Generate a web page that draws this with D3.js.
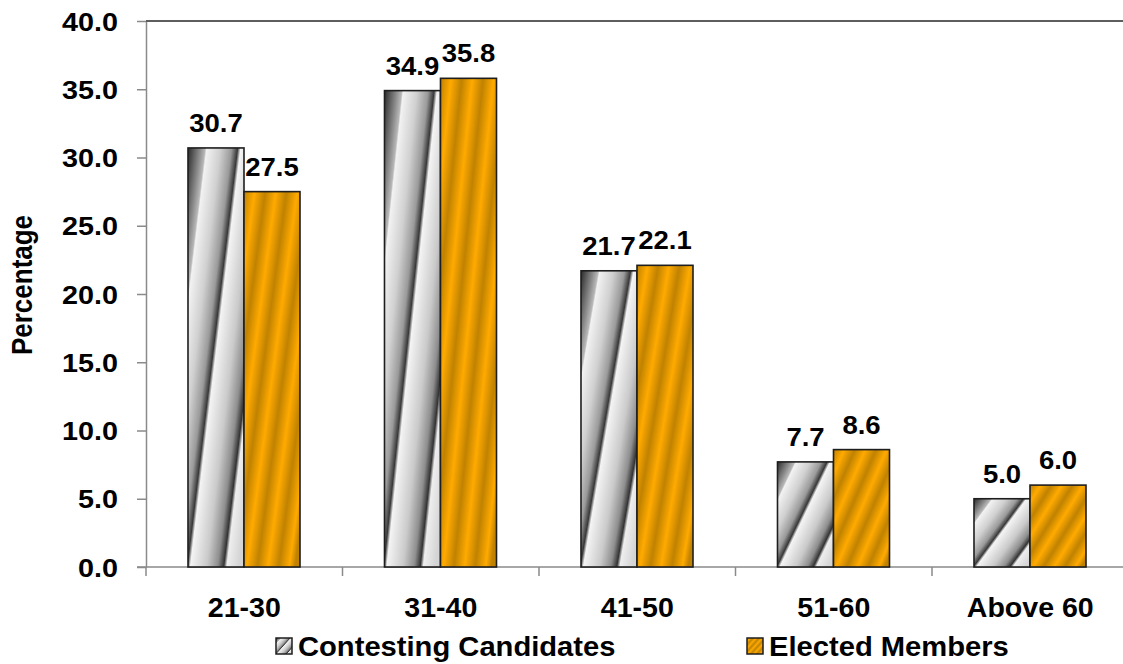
<!DOCTYPE html>
<html>
<head>
<meta charset="utf-8">
<script src="https://cdn.jsdelivr.net/npm/d3@7"></script>
<style>
  html, body { margin: 0; padding: 0; background: #fff; }
  svg { display: block; }
  text { font-family: "Liberation Sans", Arial, sans-serif; fill: #000; }
</style>
</head>
<body>
<svg id="chart" width="1123" height="664"></svg>
<script>
// ---- data ----
const categories = ["21-30", "31-40", "41-50", "51-60", "Above 60"];
const contesting = [30.7, 34.9, 21.7, 7.7, 5.0];
const elected = [27.5, 35.8, 22.1, 8.6, 6.0];
const seriesNames = ["Contesting Candidates", "Elected Members"];
const yTicks = [0, 5, 10, 15, 20, 25, 30, 35, 40];
const yTitle = "Percentage";

// ---- setup ----
const svg = d3.select("#chart");
const W = 1123, H = 664;
const plot = { left: 146, right: 1128.5, top: 21, bottom: 567 };

const x = d3.scaleBand().domain(categories).range([plot.left, plot.right]).paddingInner(0).paddingOuter(0);
const bw = x.bandwidth();
const xSub = d3.scaleBand().domain([0, 1]).range([bw * 0.2137, bw * 0.7837]).padding(0);
const y = d3.scaleLinear().domain([0, 40]).range([plot.bottom, plot.top]);

// ---- gradients ----
const defs = svg.append("defs");
const grayStops = [
  [0, "#2a2a2a"], [0.12, "#8c8c8c"], [0.17, "#b8b8b8"], [0.185, "#f2f2f2"],
  [0.32, "#d0d0d0"], [0.43, "#9a9a9a"], [0.49, "#383838"], [0.52, "#f4f4f4"],
  [0.68, "#cacaca"], [0.79, "#8e8e8e"], [0.85, "#333333"], [0.88, "#eeeeee"], [1, "#d4d4d4"]
];
const g1 = defs.append("linearGradient").attr("id", "gGray")
  .attr("x1", 0).attr("y1", 0).attr("x2", 1).attr("y2", 0.9);
grayStops.forEach(s => g1.append("stop").attr("offset", s[0]).attr("stop-color", s[1]));

const g2 = defs.append("linearGradient").attr("id", "gOrange")
  .attr("x1", 0).attr("y1", 0).attr("x2", 1).attr("y2", 0.9);
const period = 0.21;
for (let i = 0; i * period / 2 <= 1.1; i++) {
  g2.append("stop").attr("offset", Math.min(1, i * period / 2))
    .attr("stop-color", i % 2 === 0 ? "#c08200" : "#ffaa00");
}
const fills = ["url(#gGray)", "url(#gOrange)"];

// ---- axes ----
const yAxis = d3.axisLeft(y).tickValues(yTicks).tickFormat(d3.format(".1f")).tickSize(9).tickSizeOuter(0);
const gy = svg.append("g").attr("transform", `translate(${plot.left},0)`).call(yAxis);
gy.select(".domain").attr("stroke", "#8a8a8a").attr("stroke-width", 1.5);
gy.selectAll(".tick line").attr("stroke", "#8a8a8a").attr("stroke-width", 1.5);
gy.selectAll(".tick text")
  .attr("x", null).attr("dy", null)
  .attr("text-anchor", "end")
  .attr("transform", "translate(-28,9) scale(1.15,1)")
  .style("font-size", "25px").style("font-weight", "bold")
  .style("font-family", "'Liberation Sans', Arial, sans-serif").attr("fill", "#000");

const xAxis = d3.axisBottom(x).tickSize(0).tickSizeOuter(0);
const gx = svg.append("g").attr("transform", `translate(0,${plot.bottom})`).call(xAxis);
gx.select(".domain").attr("stroke", "#8a8a8a").attr("stroke-width", 1.5)
  .attr("d", `M${plot.left - 9},0H${W + 10}`);
gx.selectAll(".tick text")
  .attr("y", null).attr("dy", null)
  .attr("transform", "translate(0,50) scale(1.02,1)")
  .style("font-size", "28px").style("font-weight", "bold")
  .style("font-family", "'Liberation Sans', Arial, sans-serif").attr("fill", "#000");
// category boundary ticks
const bounds = categories.map(c => x(c)).concat([plot.right]);
gx.selectAll("line.bound").data(bounds).enter().append("line")
  .attr("class", "bound")
  .attr("x1", d => d).attr("x2", d => d).attr("y1", 0).attr("y2", 9)
  .attr("stroke", "#8a8a8a").attr("stroke-width", 1.5);

// top border
svg.append("line")
  .attr("x1", plot.left).attr("x2", W + 10)
  .attr("y1", y(40)).attr("y2", y(40))
  .attr("stroke", "#5e5e5e").attr("stroke-width", 2);

// ---- bars ----
const series = [contesting, elected];
series.forEach((vals, si) => {
  const g = svg.append("g");
  g.selectAll("rect").data(vals).enter().append("rect")
    .attr("x", (d, i) => x(categories[i]) + xSub(si))
    .attr("y", d => y(d))
    .attr("width", xSub.bandwidth())
    .attr("height", d => y(0) - y(d))
    .attr("fill", fills[si])
    .attr("stroke", "#1e1e1e").attr("stroke-width", 1.6);
  g.selectAll("text").data(vals).enter().append("text")
    .attr("text-anchor", "middle")
    .attr("transform", (d, i) => `translate(${x(categories[i]) + xSub(si) + xSub.bandwidth() / 2},${y(d) - 16}) scale(1.1,1)`)
    .style("font-size", "25px").style("font-weight", "bold")
    .text(d => d3.format(".1f")(d));
});

// ---- y title ----
svg.append("text")
  .attr("text-anchor", "middle")
  .attr("transform", "translate(32,285) scale(1.1,1) rotate(-90)")
  .style("font-size", "26px").style("font-weight", "bold")
  .text(yTitle);

// ---- legend ----
const legendX = [276, 747];
seriesNames.forEach((name, si) => {
  const lg = svg.append("g").attr("transform", `translate(${legendX[si]},638)`);
  lg.append("rect").attr("x", 0).attr("y", 0).attr("width", 16).attr("height", 16)
    .attr("fill", fills[si]).attr("stroke", "#1e1e1e").attr("stroke-width", 1.5);
  lg.append("text")
    .attr("transform", "translate(22,18) scale(1.08,1)")
    .style("font-size", "27px").style("font-weight", "bold")
    .text(name);
});
</script>
</body>
</html>
